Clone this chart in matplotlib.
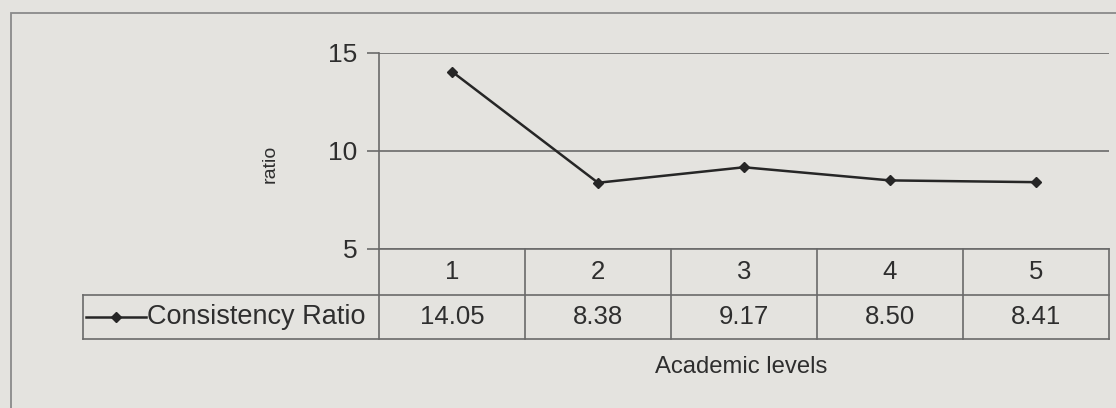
import matplotlib
matplotlib.use('Agg')
import matplotlib.pyplot as plt
from matplotlib.patches import Rectangle

# ---- data ----
levels = [1, 2, 3, 4, 5]
ratios = [14.05, 8.38, 9.17, 8.50, 8.41]
series_name = 'Consistency Ratio'
y_ticks = [5, 10, 15]
x_title = 'Academic levels'
y_title = 'ratio'

# ---- style ----
BG = '#e4e3df'
INK = '#262626'
TXT = '#2e2e2e'
GRID = '#6a6a6a'

plt.rcParams['font.family'] = ['Liberation Sans', 'DejaVu Sans']

W, H = 1116, 408
fig = plt.figure(figsize=(W / 100, H / 100), dpi=100, facecolor=BG)


def box(x0, y0, x1, y1):
    return [x0 / W, 1 - y1 / H, (x1 - x0) / W, (y1 - y0) / H]


# outer frame (extends past right and bottom edges)
fig.patches.append(Rectangle((11 / W, -0.5), 2.0, 1.5 - 13 / H,
                             transform=fig.transFigure, fill=False,
                             ec='#8a8a8a', lw=1.3))

ax = fig.add_axes(box(379, 53, 1109, 249))
ax.set_facecolor('none')
ax.set_xlim(0.5, 5.5)
ax.set_ylim(5, 15)
ax.set_yticks(y_ticks)
ax.set_xticks([])
ax.yaxis.grid(True, color=GRID, lw=1.2)
ax.set_axisbelow(True)
for s in ['top', 'right', 'bottom']:
    ax.spines[s].set_visible(False)
ax.spines['left'].set_color(GRID)
ax.spines['left'].set_linewidth(1.2)
ax.tick_params(axis='y', length=9, width=1.2, color=GRID, pad=6.5,
               labelsize=19, labelcolor=TXT)

ax.plot(levels, ratios, color=INK, lw=1.8, marker='D', ms=5.4,
        mfc=INK, mec=INK, zorder=5, clip_on=False)

ax.set_ylabel(y_title, fontsize=14, color=TXT)
ax.yaxis.label.set_va('center')
ax.yaxis.set_label_coords(-0.149, 0.434)

# ---- data table below the plot ----
tr = ax.get_xaxis_transform()
ax_h = 249 - 53
y_hdr = -46 / ax_h
y_row = -90 / ax_h
step = (1109 - 379) / len(levels)
x_leg = 0.5 + (83 - 379) / step
x_left_edge = levels[0] - 0.5
x_right_edge = levels[-1] + 0.5
lkw = dict(color=GRID, lw=1.2, clip_on=False, transform=tr)

ax.plot([x_left_edge, x_right_edge], [0, 0], **lkw)
ax.plot([x_leg, x_right_edge], [y_hdr, y_hdr], **lkw)
ax.plot([x_leg, x_right_edge], [y_row, y_row], **lkw)
for i in range(len(levels) + 1):
    xv = levels[0] - 0.5 + i
    ax.plot([xv, xv], [y_row, 0], **lkw)
ax.plot([x_leg, x_leg], [y_row, y_hdr], **lkw)

for lv, r in zip(levels, ratios):
    ax.text(lv, y_hdr / 2, str(lv), transform=tr, ha='center', va='center',
            fontsize=18.5, color=TXT)
    ax.text(lv, (y_hdr + y_row) / 2, f'{r:.2f}', transform=tr, ha='center',
            va='center', fontsize=18.5, color=TXT)

# legend key inside the table's row header
y_mid = (y_hdr + y_row) / 2
lx0 = 0.5 + (86 - 379) / step
lx1 = 0.5 + (146 - 379) / step
ax.plot([lx0, lx1], [y_mid, y_mid], color=INK, lw=1.8, clip_on=False,
        transform=tr)
ax.plot([(lx0 + lx1) / 2], [y_mid], marker='D', ms=5.4, color=INK,
        clip_on=False, transform=tr)
ax.text(0.5 + (147 - 379) / step, y_mid, series_name, transform=tr,
        ha='left', va='center', fontsize=19.5, color=TXT)

ax.text(0.496, (249 - 367) / ax_h, x_title, transform=ax.transAxes,
        ha='center', va='center', fontsize=17.2, color=TXT)

fig.savefig('out.png', dpi=100, facecolor=BG)
